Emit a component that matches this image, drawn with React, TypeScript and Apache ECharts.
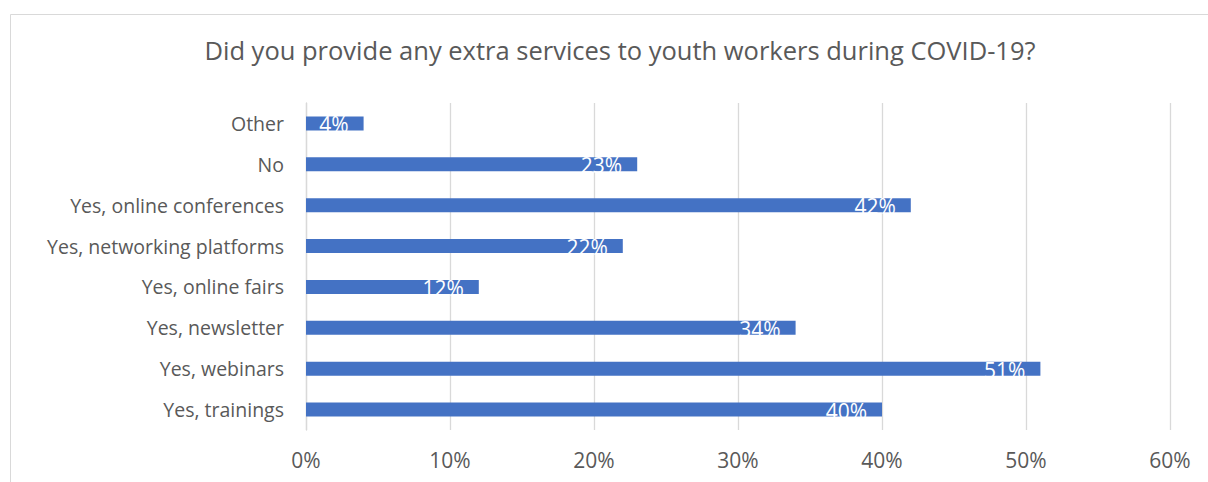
import React, { useEffect, useRef } from "react";
import * as echarts from "echarts";

const categories = [
  "Yes, trainings",
  "Yes, webinars",
  "Yes, newsletter",
  "Yes, online fairs",
  "Yes, networking platforms",
  "Yes, online conferences",
  "No",
  "Other",
];
const values = [40, 51, 34, 12, 22, 42, 23, 4];
const titleText = "Did you provide any extra services to youth workers during COVID-19?";

export default function App() {
  const ref = useRef<HTMLDivElement>(null);
  useEffect(() => {
    document.body.style.margin = "0";
    const chart = echarts.init(ref.current!, null, { renderer: "svg" });
    const font = "Open Sans";
    chart.setOption({
      animation: false,
      backgroundColor: "#ffffff",
      textStyle: { fontFamily: font },
      title: {
        text: titleText,
        left: 615,
        textAlign: "center",
        top: 32,
        textStyle: { fontFamily: font, fontSize: 25.5, fontWeight: "normal", color: "#595959" },
      },
      graphic: [
        {
          type: "rect",
          shape: { x: 10.5, y: 14.5, width: 1300, height: 600 },
          style: { fill: "none", stroke: "#d9d9d9", lineWidth: 1 },
          silent: true,
        },
      ],
      grid: { left: 306, right: 38, top: 103, bottom: 52, containLabel: false },
      xAxis: {
        type: "value",
        min: 0,
        max: 60,
        interval: 10,
        axisLine: { show: false },
        axisTick: { show: false },
        splitLine: { show: true, lineStyle: { color: "#d9d9d9", width: 1.3 } },
        axisLabel: {
          formatter: "{value}%",
          color: "#595959",
          fontSize: 21,
          fontFamily: font,
          margin: 19,
        },
      },
      yAxis: {
        type: "category",
        data: categories,
        axisLine: { show: true, lineStyle: { color: "#d9d9d9", width: 1.3 } },
        axisTick: { show: false },
        axisLabel: { color: "#595959", fontSize: 19.5, fontFamily: font, margin: 22 },
      },
      series: [
        {
          type: "bar",
          data: values,
          barWidth: 14,
          itemStyle: { color: "#4472C4" },
          label: {
            show: true,
            position: "insideRight",
            distance: 15,
            offset: [0, 1],
            formatter: "{c}%",
            color: "#ffffff",
            fontSize: 21,
            fontFamily: font,
          },
        },
      ],
    });
    return () => chart.dispose();
  }, []);
  return (
    <div
      ref={ref}
      style={{ position: "absolute", left: 0, top: 0, width: 1208, height: 482 }}
    />
  );
}
